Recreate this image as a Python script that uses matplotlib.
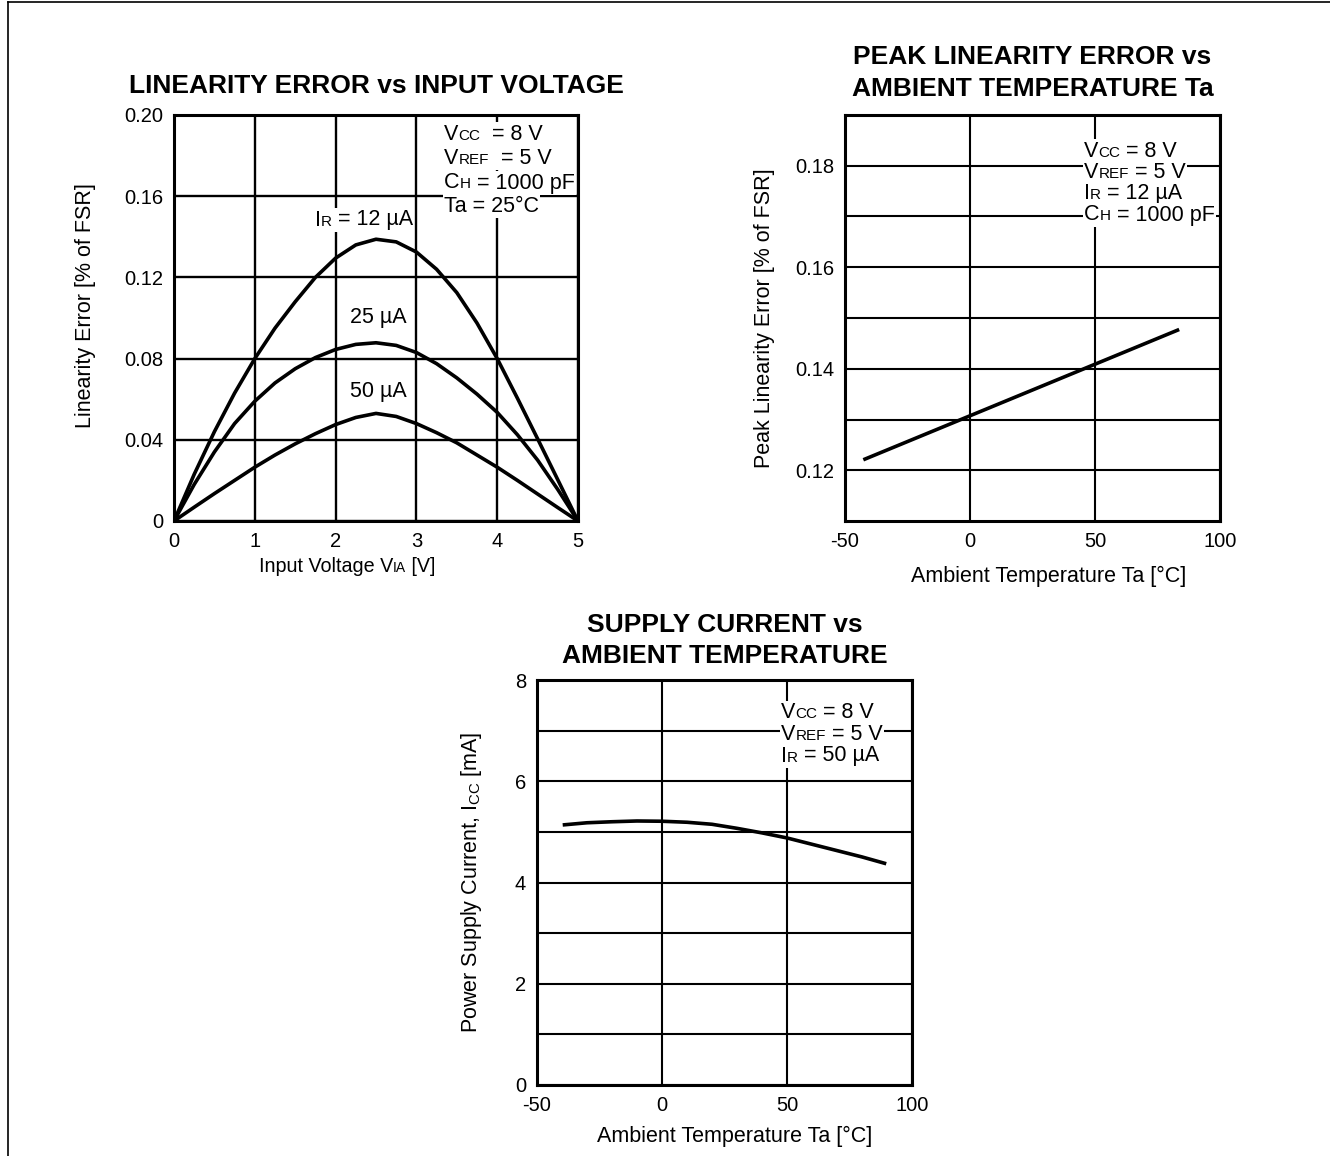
import matplotlib
matplotlib.use("Agg")
import matplotlib.pyplot as plt
from matplotlib.offsetbox import TextArea, HPacker, AnchoredOffsetbox
from matplotlib.lines import Line2D

plt.rcParams['font.family'] = ['Liberation Sans', 'DejaVu Sans']
plt.rcParams['axes.unicode_minus'] = False

# Linearity error vs input voltage
vin = [0, 0.25, 0.5, 0.75, 1, 1.25, 1.5, 1.75, 2, 2.25, 2.5,
       2.75, 3, 3.25, 3.5, 3.75, 4, 4.25, 4.5, 4.75, 5]
err_12ua = [0, 0.023, 0.044, 0.063, 0.080, 0.095, 0.108, 0.120, 0.1295, 0.136, 0.1388,
            0.1375, 0.1325, 0.124, 0.1125, 0.0975, 0.080, 0.0605, 0.0405, 0.0203, 0]
err_25ua = [0, 0.018, 0.034, 0.048, 0.059, 0.068, 0.075, 0.0805, 0.0845, 0.087, 0.0878,
            0.0865, 0.083, 0.0775, 0.0705, 0.0625, 0.0535, 0.0425, 0.030, 0.0155, 0]
err_50ua = [0, 0.0068, 0.0135, 0.020, 0.0265, 0.0325, 0.038, 0.043, 0.0475, 0.051, 0.053,
            0.0515, 0.048, 0.0435, 0.0385, 0.0325, 0.0265, 0.020, 0.0133, 0.0066, 0]

# Peak linearity error vs ambient temperature
temp_peak = [-42, 83]
peak_err = [0.1222, 0.1476]

# Supply current vs ambient temperature
temp_icc = [-39, -30, -20, -10, 0, 10, 20, 30, 40, 50, 60, 70, 80, 89]
icc = [5.14, 5.18, 5.20, 5.215, 5.21, 5.19, 5.15, 5.07, 4.98, 4.88, 4.755, 4.63, 4.505, 4.38]

W, H = 1330, 1156
BIG = 15.5
SMALL = 11
TICK = 14.5
TITLE = 19

fig = plt.figure(figsize=(W / 100, H / 100), dpi=100)


def fx(px):
    return px / W


def fy(py):
    return 1 - py / H


def rich_line(parts, size=BIG, small=SMALL):
    # parts: list of (text, is_small) pieces sharing one baseline
    boxes = [TextArea(txt, textprops=dict(fontsize=small if is_small else size, color='black'))
             for txt, is_small in parts]
    return HPacker(children=boxes, align='baseline', pad=0, sep=0)


def place(parts, x, y, loc='center left', bg=True, size=BIG, small=SMALL):
    ab = AnchoredOffsetbox(loc=loc, child=rich_line(parts, size, small), pad=0.08,
                           borderpad=0, frameon=bg, bbox_to_anchor=(fx(x), fy(y)),
                           bbox_transform=fig.transFigure)
    if bg:
        ab.patch.set_facecolor('white')
        ab.patch.set_edgecolor('none')
        ab.patch.set_boxstyle('square', pad=0)
    fig.add_artist(ab)


def style_axes(ax, grid_lw):
    for s in ax.spines.values():
        s.set_linewidth(2.2)
        s.set_zorder(3)
    ax.tick_params(which='both', length=0, labelsize=TICK, pad=8)
    ax.grid(which='both', color='black', linewidth=grid_lw)
    ax.set_axisbelow(True)


# ---- chart 1 ----
ax1 = fig.add_axes([fx(174), fy(521), fx(578) - fx(174), fy(115) - fy(521)])
ax1.plot(vin, err_12ua, color='black', lw=2.6, zorder=2, solid_joinstyle='round')
ax1.plot(vin, err_25ua, color='black', lw=2.6, zorder=2, solid_joinstyle='round')
ax1.plot(vin, err_50ua, color='black', lw=2.6, zorder=2, solid_joinstyle='round')
ax1.set_xlim(0, 5)
ax1.set_ylim(0, 0.20)
ax1.set_xticks([0, 1, 2, 3, 4, 5])
ax1.set_yticks([0, 0.04, 0.08, 0.12, 0.16, 0.20])
ax1.set_yticklabels(['0', '0.04', '0.08', '0.12', '0.16', '0.20'])
style_axes(ax1, 1.7)
ax1.set_ylabel('Linearity Error [% of FSR]', fontsize=BIG)
ax1.yaxis.set_label_coords((96 - 174) / 404, 0.53)
ax1.set_title('LINEARITY ERROR vs INPUT VOLTAGE', fontsize=TITLE, fontweight='bold', pad=16)
place([('Input Voltage V', False), ('IA', True), (' [V]', False)], 347, 567,
      loc='center', bg=False, size=14.2, small=10)
place([('V', False), ('CC', True), ('  = 8 V', False)], 443, 134)
place([('V', False), ('REF', True), ('  = 5 V', False)], 443, 158)
place([('C', False), ('H', True), (' = 1000 pF', False)], 443, 183)
place([('Ta = 25°C', False)], 443, 206)
place([('I', False), ('R', True), (' = 12 µA', False)], 364, 220, loc='center')
place([('25 µA', False)], 378, 318, loc='center')
place([('50 µA', False)], 378, 392, loc='center')

# ---- chart 2 ----
ax2 = fig.add_axes([fx(845), fy(521), fx(1220) - fx(845), fy(115) - fy(521)])
ax2.plot(temp_peak, peak_err, color='black', lw=2.6, zorder=2)
ax2.set_xlim(-50, 100)
ax2.set_ylim(0.11, 0.19)
ax2.set_xticks([-50, 0, 50, 100])
ax2.set_yticks([0.12, 0.14, 0.16, 0.18])
ax2.set_yticks([0.13, 0.15, 0.17], minor=True)
ax2.set_yticklabels(['0.12', '0.14', '0.16', '0.18'])
style_axes(ax2, 1.5)
ax2.set_ylabel('Peak Linearity Error [% of FSR]', fontsize=BIG)
ax2.yaxis.set_label_coords((775 - 845) / 375, 0.5)
ax2.set_xlabel('Ambient Temperature Ta [°C]', fontsize=BIG)
ax2.xaxis.set_label_coords((1049 - 845) / 375, -(566 - 521) / 406)
ax2.set_title('PEAK LINEARITY ERROR vs\nAMBIENT TEMPERATURE Ta', fontsize=TITLE,
              fontweight='bold', pad=14, linespacing=1.4)
place([('V', False), ('CC', True), (' = 8 V', False)], 1083, 151)
place([('V', False), ('REF', True), (' = 5 V', False)], 1083, 172)
place([('I', False), ('R', True), (' = 12 µA', False)], 1083, 193)
place([('C', False), ('H', True), (' = 1000 pF', False)], 1083, 215)

# ---- chart 3 ----
ax3 = fig.add_axes([fx(537), fy(1085), fx(912) - fx(537), fy(680) - fy(1085)])
ax3.plot(temp_icc, icc, color='black', lw=2.6, zorder=2, solid_joinstyle='round')
ax3.set_xlim(-50, 100)
ax3.set_ylim(0, 8)
ax3.set_xticks([-50, 0, 50, 100])
ax3.set_yticks([0, 2, 4, 6, 8])
ax3.set_yticks([1, 3, 5, 7], minor=True)
style_axes(ax3, 1.5)
ax3.set_ylabel(r'Power Supply Current, I$_{\mathregular{CC}}$ [mA]', fontsize=BIG)
ax3.yaxis.set_label_coords((484 - 537) / 375, 0.5)
ax3.set_xlabel('Ambient Temperature Ta [°C]', fontsize=BIG)
ax3.xaxis.set_label_coords((735 - 537) / 375, -(1126 - 1085) / 405)
ax3.set_title('SUPPLY CURRENT vs\nAMBIENT TEMPERATURE', fontsize=TITLE,
              fontweight='bold', pad=12, linespacing=1.4)
place([('V', False), ('CC', True), (' = 8 V', False)], 780, 713)
place([('V', False), ('REF', True), (' = 5 V', False)], 780, 734)
place([('I', False), ('R', True), (' = 50 µA', False)], 780, 756)

# page frame (top and left edges)
fig.add_artist(Line2D([fx(8), 1], [fy(2), fy(2)], color='black', lw=1.2))
fig.add_artist(Line2D([fx(8), fx(8)], [fy(2), 0], color='black', lw=1.2))

fig.savefig('out.png', dpi=100, facecolor='white')
